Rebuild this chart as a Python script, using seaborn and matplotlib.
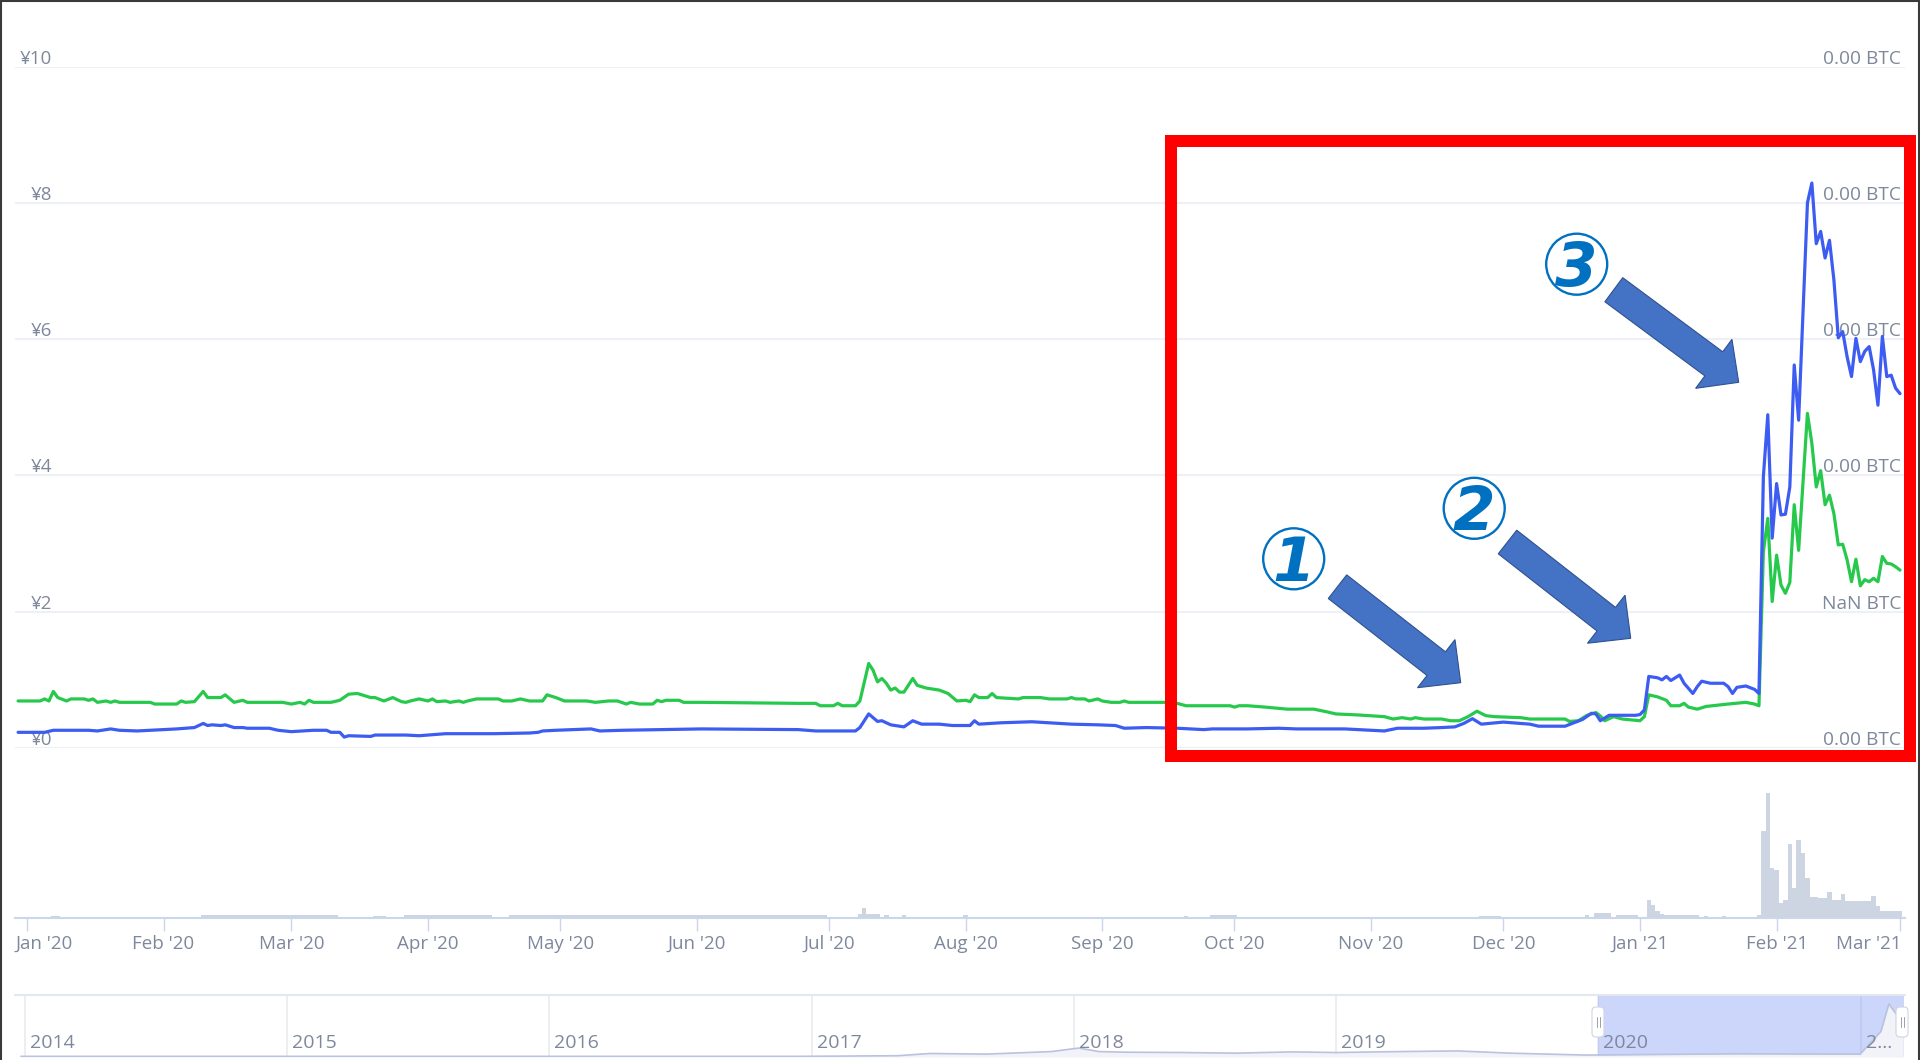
import matplotlib
matplotlib.use("Agg")
import matplotlib.pyplot as plt
import matplotlib.patches as mpatches
import matplotlib.transforms as mtransforms
from matplotlib.lines import Line2D
import numpy as np
import pandas as pd
import seaborn as sns

sns.set_theme(style="white")
plt.rcParams["font.family"] = ["Open Sans", "DejaVu Sans"]

# ---------------------------------------------------------------- data
blue_dates = [
    "2019-12-30", "2020-01-05", "2020-01-07", "2020-01-10", "2020-01-15", "2020-01-17", "2020-01-19",
    "2020-01-20", "2020-01-22", "2020-01-26", "2020-01-29", "2020-02-04", "2020-02-08", "2020-02-10",
    "2020-02-11", "2020-02-12", "2020-02-14", "2020-02-15", "2020-02-17", "2020-02-19", "2020-02-20",
    "2020-02-25", "2020-02-27", "2020-03-01", "2020-03-06", "2020-03-09", "2020-03-10", "2020-03-12",
    "2020-03-13", "2020-03-14", "2020-03-19", "2020-03-20", "2020-03-27", "2020-03-30", "2020-04-05",
    "2020-04-16", "2020-04-24", "2020-04-26", "2020-04-27", "2020-04-30", "2020-05-08", "2020-05-10",
    "2020-05-15", "2020-06-02", "2020-06-24", "2020-06-28", "2020-07-07", "2020-07-08", "2020-07-10",
    "2020-07-12", "2020-07-13", "2020-07-15", "2020-07-18", "2020-07-20", "2020-07-22", "2020-07-26",
    "2020-07-29", "2020-08-02", "2020-08-03", "2020-08-04", "2020-08-09", "2020-08-16", "2020-08-25",
    "2020-08-31", "2020-09-04", "2020-09-06", "2020-09-11", "2020-09-18", "2020-09-24", "2020-09-26",
    "2020-10-04", "2020-10-11", "2020-10-15", "2020-10-26", "2020-11-04", "2020-11-07", "2020-11-13",
    "2020-11-17", "2020-11-20", "2020-11-22", "2020-11-24", "2020-11-26", "2020-12-01", "2020-12-05",
    "2020-12-07", "2020-12-09", "2020-12-15", "2020-12-17", "2020-12-19", "2020-12-21", "2020-12-22",
    "2020-12-23", "2020-12-25", "2020-12-31", "2021-01-01", "2021-01-02", "2021-01-03", "2021-01-05",
    "2021-01-06", "2021-01-07", "2021-01-08", "2021-01-10", "2021-01-11", "2021-01-13", "2021-01-14",
    "2021-01-15", "2021-01-17", "2021-01-20", "2021-01-21", "2021-01-22", "2021-01-23", "2021-01-25",
    "2021-01-27", "2021-01-28", "2021-01-29", "2021-01-30", "2021-01-31", "2021-02-01", "2021-02-02",
    "2021-02-03", "2021-02-04", "2021-02-05", "2021-02-06", "2021-02-08", "2021-02-09", "2021-02-10",
    "2021-02-11", "2021-02-12", "2021-02-13", "2021-02-14", "2021-02-15", "2021-02-16", "2021-02-17",
    "2021-02-18", "2021-02-19", "2021-02-20", "2021-02-21", "2021-02-22", "2021-02-23", "2021-02-24",
    "2021-02-25", "2021-02-26", "2021-02-27", "2021-02-28", "2021-03-01",
]
blue_jpy = [
    0.23, 0.23, 0.26, 0.26, 0.26, 0.25, 0.27,
    0.28, 0.26, 0.25, 0.26, 0.28, 0.30, 0.36,
    0.33, 0.34, 0.33, 0.34, 0.30, 0.30, 0.29,
    0.29, 0.26, 0.24, 0.26, 0.26, 0.23, 0.23,
    0.16, 0.18, 0.17, 0.19, 0.19, 0.18, 0.21,
    0.21, 0.22, 0.23, 0.25, 0.26, 0.28, 0.25,
    0.26, 0.28, 0.27, 0.25, 0.25, 0.30, 0.50,
    0.39, 0.40, 0.34, 0.31, 0.40, 0.35, 0.35,
    0.33, 0.33, 0.40, 0.35, 0.37, 0.385, 0.35,
    0.34, 0.33, 0.29, 0.30, 0.29, 0.27, 0.28,
    0.28, 0.29, 0.28, 0.28, 0.25, 0.29, 0.29,
    0.30, 0.31, 0.36, 0.43, 0.35, 0.38, 0.36,
    0.35, 0.32, 0.32, 0.37, 0.42, 0.51, 0.50,
    0.40, 0.48, 0.48, 0.49, 0.56, 1.05, 1.03,
    1.00, 1.05, 0.99, 1.07, 0.95, 0.80, 0.90,
    0.98, 0.95, 0.95, 0.90, 0.80, 0.89, 0.91,
    0.86, 0.80, 3.98, 4.89, 3.08, 3.88, 3.42,
    3.43, 3.83, 5.62, 4.81, 8.00, 8.29, 7.40,
    7.58, 7.19, 7.45, 6.87, 6.02, 6.11, 5.74,
    5.45, 6.01, 5.67, 5.82, 5.89, 5.55, 5.03,
    6.04, 5.45, 5.47, 5.28, 5.20,
]

green_dates = [
    "2019-12-30", "2020-01-04", "2020-01-05", "2020-01-06", "2020-01-07", "2020-01-08", "2020-01-10",
    "2020-01-11", "2020-01-14", "2020-01-15", "2020-01-16", "2020-01-17", "2020-01-19", "2020-01-20",
    "2020-01-21", "2020-01-22", "2020-01-29", "2020-01-30", "2020-02-04", "2020-02-05", "2020-02-06",
    "2020-02-08", "2020-02-10", "2020-02-11", "2020-02-14", "2020-02-15", "2020-02-17", "2020-02-19",
    "2020-02-20", "2020-02-28", "2020-03-01", "2020-03-03", "2020-03-04", "2020-03-05", "2020-03-06",
    "2020-03-10", "2020-03-12", "2020-03-14", "2020-03-16", "2020-03-17", "2020-03-19", "2020-03-20",
    "2020-03-22", "2020-03-24", "2020-03-26", "2020-03-27", "2020-03-28", "2020-03-30", "2020-04-01",
    "2020-04-02", "2020-04-03", "2020-04-05", "2020-04-06", "2020-04-08", "2020-04-09", "2020-04-10",
    "2020-04-12", "2020-04-17", "2020-04-18", "2020-04-20", "2020-04-22", "2020-04-24", "2020-04-27",
    "2020-04-28", "2020-04-30", "2020-05-02", "2020-05-07", "2020-05-09", "2020-05-12", "2020-05-14",
    "2020-05-16", "2020-05-17", "2020-05-19", "2020-05-22", "2020-05-23", "2020-05-24", "2020-05-25",
    "2020-05-28", "2020-05-29", "2020-06-02", "2020-06-24", "2020-06-28", "2020-06-29", "2020-07-02",
    "2020-07-03", "2020-07-04", "2020-07-07", "2020-07-08", "2020-07-10", "2020-07-11", "2020-07-12",
    "2020-07-13", "2020-07-14", "2020-07-15", "2020-07-16", "2020-07-17", "2020-07-18", "2020-07-20",
    "2020-07-21", "2020-07-23", "2020-07-26", "2020-07-28", "2020-07-30", "2020-08-01", "2020-08-02",
    "2020-08-03", "2020-08-04", "2020-08-06", "2020-08-07", "2020-08-08", "2020-08-13", "2020-08-14",
    "2020-08-18", "2020-08-20", "2020-08-24", "2020-08-25", "2020-08-26", "2020-08-28", "2020-08-29",
    "2020-08-31", "2020-09-01", "2020-09-03", "2020-09-05", "2020-09-06", "2020-09-07", "2020-09-15",
    "2020-09-18", "2020-09-20", "2020-09-30", "2020-10-01", "2020-10-02", "2020-10-04", "2020-10-08",
    "2020-10-13", "2020-10-19", "2020-10-22", "2020-10-24", "2020-10-29", "2020-11-04", "2020-11-06",
    "2020-11-08", "2020-11-10", "2020-11-11", "2020-11-13", "2020-11-17", "2020-11-19", "2020-11-21",
    "2020-11-23", "2020-11-25", "2020-11-27", "2020-11-29", "2020-12-05", "2020-12-07", "2020-12-15",
    "2020-12-16", "2020-12-18", "2020-12-20", "2020-12-22", "2020-12-23", "2020-12-24", "2020-12-26",
    "2020-12-28", "2021-01-01", "2021-01-02", "2021-01-03", "2021-01-05", "2021-01-07", "2021-01-08",
    "2021-01-10", "2021-01-11", "2021-01-12", "2021-01-14", "2021-01-16", "2021-01-21", "2021-01-25",
    "2021-01-27", "2021-01-28", "2021-01-29", "2021-01-30", "2021-01-31", "2021-02-01", "2021-02-02",
    "2021-02-03", "2021-02-04", "2021-02-05", "2021-02-06", "2021-02-08", "2021-02-09", "2021-02-10",
    "2021-02-11", "2021-02-12", "2021-02-13", "2021-02-14", "2021-02-15", "2021-02-16", "2021-02-17",
    "2021-02-18", "2021-02-19", "2021-02-20", "2021-02-21", "2021-02-22", "2021-02-23", "2021-02-24",
    "2021-02-25", "2021-02-26", "2021-02-27", "2021-02-28", "2021-03-01",
]
green_val = [
    0.69, 0.69, 0.72, 0.69, 0.83, 0.74, 0.69,
    0.72, 0.72, 0.70, 0.72, 0.67, 0.69, 0.67,
    0.69, 0.67, 0.67, 0.645, 0.645, 0.69, 0.67,
    0.68, 0.83, 0.74, 0.74, 0.78, 0.67, 0.70,
    0.67, 0.67, 0.645, 0.67, 0.645, 0.70, 0.67,
    0.67, 0.70, 0.79, 0.80, 0.78, 0.74, 0.74,
    0.69, 0.74, 0.68, 0.67, 0.69, 0.72, 0.69,
    0.72, 0.68, 0.69, 0.67, 0.69, 0.67, 0.69,
    0.72, 0.72, 0.69, 0.69, 0.72, 0.69, 0.69,
    0.78, 0.74, 0.69, 0.69, 0.67, 0.69, 0.69,
    0.645, 0.67, 0.645, 0.645, 0.70, 0.68, 0.70,
    0.70, 0.67, 0.67, 0.655, 0.655, 0.62, 0.62,
    0.655, 0.62, 0.62, 0.69, 1.24, 1.14, 0.97,
    1.02, 0.95, 0.85, 0.88, 0.82, 0.82, 1.02,
    0.92, 0.88, 0.85, 0.80, 0.69, 0.70, 0.68,
    0.78, 0.74, 0.74, 0.80, 0.74, 0.72, 0.74,
    0.74, 0.72, 0.72, 0.74, 0.72, 0.72, 0.69,
    0.72, 0.69, 0.67, 0.67, 0.69, 0.67, 0.67,
    0.655, 0.62, 0.62, 0.60, 0.62, 0.62, 0.60,
    0.57, 0.57, 0.53, 0.50, 0.485, 0.46, 0.425,
    0.445, 0.425, 0.445, 0.425, 0.425, 0.40, 0.40,
    0.46, 0.54, 0.475, 0.46, 0.445, 0.425, 0.425,
    0.39, 0.40, 0.48, 0.52, 0.47, 0.40, 0.46,
    0.425, 0.40, 0.46, 0.78, 0.75, 0.70, 0.62,
    0.62, 0.655, 0.60, 0.57, 0.61, 0.645, 0.67,
    0.645, 0.62, 2.88, 3.37, 2.15, 2.83, 2.39,
    2.27, 2.43, 3.57, 2.90, 4.91, 4.47, 3.83,
    4.07, 3.57, 3.71, 3.44, 2.98, 2.99, 2.76,
    2.44, 2.77, 2.38, 2.47, 2.44, 2.49, 2.44,
    2.81, 2.71, 2.70, 2.66, 2.61,
]

# volume: run-length (first day, number of days, bar height)
vol_start = [
    "2020-01-07", "2020-02-10", "2020-03-20", "2020-03-27", "2020-04-20", "2020-07-08", "2020-07-09",
    "2020-07-10", "2020-07-14", "2020-07-18", "2020-08-01", "2020-09-20", "2020-09-26", "2020-11-26",
    "2020-12-20", "2020-12-22", "2020-12-27", "2021-01-03", "2021-01-04", "2021-01-05", "2021-01-06",
    "2021-01-07", "2021-01-16", "2021-01-20", "2021-01-28", "2021-01-29", "2021-01-30", "2021-01-31",
    "2021-02-01", "2021-02-02", "2021-02-03", "2021-02-04", "2021-02-05", "2021-02-06", "2021-02-07",
    "2021-02-08", "2021-02-09", "2021-02-10", "2021-02-11", "2021-02-12", "2021-02-13", "2021-02-14",
    "2021-02-15", "2021-02-16", "2021-02-17", "2021-02-23", "2021-02-24", "2021-02-25",
]
vol_days = [
    2, 31, 3, 20, 72, 1, 1,
    3, 1, 1, 1, 1, 6, 5,
    1, 4, 5, 1, 1, 1, 1,
    8, 1, 1, 1, 1, 1, 1,
    1, 1, 1, 1, 1, 1, 1,
    1, 1, 1, 1, 1, 1, 1,
    1, 1, 6, 1, 1, 5,
]
vol_value = [
    2, 3.5, 2.5, 3.5, 3.5, 4, 10,
    4, 3, 3, 3, 2.5, 3, 2.5,
    3, 5, 3, 18, 13, 7, 4,
    3, 2.5, 2, 3, 87, 125, 50,
    48, 15, 18, 74, 30, 78, 65,
    40, 21, 21, 20, 20, 26, 18,
    18, 24, 17, 22, 12, 7,
]

# navigator (whole price history, JPY)
nav_dates = [
    "2013-12-27", "2016-12-15", "2017-05-01", "2017-06-15", "2017-09-01", "2017-12-01", "2018-01-08",
    "2018-02-05", "2018-03-15", "2018-06-01", "2018-08-15", "2018-11-01", "2019-01-01", "2019-04-01",
    "2019-06-20", "2019-09-01", "2019-12-15", "2020-07-10", "2020-12-31", "2021-01-29", "2021-02-09",
    "2021-03-01",
]
nav_val = [
    0.10, 0.10, 0.20, 0.55, 0.45, 0.85, 1.40,
    0.85, 0.75, 0.70, 0.60, 0.80, 0.70, 0.85,
    0.95, 0.60, 0.30, 0.50, 0.45, 4.00, 8.29,
    5.20,
]
nav_years = [2014, 2015, 2016, 2017, 2018, 2019, 2020, 2021]
nav_year_labels = ["2014", "2015", "2016", "2017", "2018", "2019", "2020", "2..."]

y_ticks = [0, 2, 4, 6, 8, 10]
left_labels = ["¥0", "¥2", "¥4", "¥6", "¥8", "¥10"]
right_labels = ["0.00 BTC", "NaN BTC", "0.00 BTC", "0.00 BTC", "0.00 BTC", "0.00 BTC"]
month_starts = pd.date_range("2020-01-01", "2021-03-01", freq="MS")
month_labels = ["Jan '20", "Feb '20", "Mar '20", "Apr '20", "May '20", "Jun '20", "Jul '20",
                "Aug '20", "Sep '20", "Oct '20", "Nov '20", "Dec '20", "Jan '21", "Feb '21", "Mar '21"]

# ---------------------------------------------------------------- style
BLUE = "#3c5cf2"
GREEN = "#27c94c"
GRID = "#edf0f5"
LABEL = "#7e889c"
AXIS = "#ccd6eb"
VOL = "#cdd4e2"
W, H = 1920, 1060
L_PX, R_PX = 15, 1905

fig = plt.figure(figsize=(W / 100, H / 100), dpi=100)
fig.patch.set_facecolor("white")
PIX = mtransforms.Affine2D().scale(1 / W, -1 / H).translate(0, 1) + fig.transFigure


def frac_rect(top, bottom):
    return [L_PX / W, 1 - bottom / H, (R_PX - L_PX) / W, (bottom - top) / H]


origin = pd.Timestamp("2020-01-01")
ppd = (1900 - 26.9) / 425.0
xlim = (origin + pd.Timedelta(days=(L_PX - 26.9) / ppd), origin + pd.Timedelta(days=(R_PX - 26.9) / ppd))

# ---------------------------------------------------------------- main price panel
ax = fig.add_axes(frac_rect(66.5, 748))
ax.set_facecolor("none")
price = pd.DataFrame({"date": pd.to_datetime(blue_dates), "jpy": blue_jpy})
second = pd.DataFrame({"date": pd.to_datetime(green_dates), "val": green_val})
sns.lineplot(data=second, x="date", y="val", ax=ax, color=GREEN, linewidth=2.3, zorder=4)
sns.lineplot(data=price, x="date", y="jpy", ax=ax, color=BLUE, linewidth=2.3, zorder=5)
ax.set_xlim(xlim)
ax.set_ylim(0, 10)
for v in y_ticks:
    ax.axhline(v, color=GRID, linewidth=1.5, zorder=1)
ax.axis("off")

ytrans = mtransforms.offset_copy(ax.get_yaxis_transform(), fig=fig, x=0, y=3, units="dots")
for v, lab in zip(y_ticks, left_labels):
    ax.text((52 - L_PX) / (R_PX - L_PX), v, lab, transform=ytrans, ha="right", va="baseline",
            fontsize=13.5, color=LABEL, zorder=2)
for v, lab in zip(y_ticks, right_labels):
    ax.text((1901 - L_PX) / (R_PX - L_PX), v, lab, transform=ytrans, ha="right", va="baseline",
            fontsize=13.8, color=LABEL, zorder=2)

# ---------------------------------------------------------------- volume panel
vax = fig.add_axes(frac_rect(748, 918))
vax.set_facecolor("none")
v_left = pd.to_datetime(vol_start) - pd.Timedelta(hours=12)
vax.bar(v_left, vol_value, width=np.array(vol_days, dtype=float), align="edge",
        color=VOL, edgecolor="none", linewidth=0, zorder=2)
vax.set_xlim(xlim)
vax.set_ylim(0, 170)
for s in vax.spines.values():
    s.set_visible(False)
vax.spines["bottom"].set_visible(True)
vax.spines["bottom"].set_color(AXIS)
vax.spines["bottom"].set_linewidth(1.5)
vax.set_yticks([])
vax.set_xticks(month_starts)
vax.set_xticklabels([])
vax.tick_params(axis="x", length=9, width=1.0, color=AXIS, direction="out", bottom=True)
btrans = mtransforms.blended_transform_factory(vax.transData, PIX)
for i, (m, lab) in enumerate(zip(month_starts, month_labels)):
    if i == 0:
        x, ha = xlim[0], "left"
    elif i == len(month_starts) - 1:
        x, ha = xlim[1] - pd.Timedelta(days=0.7), "right"
    else:
        x, ha = m, "center"
    vax.text(x, 944, lab, transform=btrans, ha=ha, va="center", fontsize=13.5, color=LABEL)

# ---------------------------------------------------------------- navigator
nax = fig.add_axes(frac_rect(994, 1057))
nax.set_facecolor("none")
nav_origin = pd.Timestamp("2014-01-01")
nppd = (1598 - 24.5) / 2191.0
nav_xlim = (nav_origin + pd.Timedelta(days=(L_PX - 24.5) / nppd),
            nav_origin + pd.Timedelta(days=(R_PX - 24.5) / nppd))
nav = pd.DataFrame({"date": pd.to_datetime(nav_dates), "val": nav_val})
nax.fill_between(nav["date"], nav["val"], color="#f1f3f9", zorder=2, linewidth=0)
sns.lineplot(data=nav, x="date", y="val", ax=nax, color="#b9c2de", linewidth=1.2, zorder=3)
nax.axvspan(pd.Timestamp("2020-01-01"), pd.Timestamp("2021-03-01") + pd.Timedelta(days=0.5),
            ymin=0, ymax=(1060 - 994) / (1057 - 994),
            color="#6685f2", alpha=0.33, linewidth=0, zorder=1)
for yr in nav_years:
    nax.axvline(pd.Timestamp(f"{yr}-01-01"), ymin=0, ymax=1.0, color="#e9ebf0", linewidth=1.2, zorder=0)
nax.set_xlim(nav_xlim)
nax.set_ylim(0, 9.85)
nax.axis("off")
ntrans = mtransforms.blended_transform_factory(nax.transData, PIX)
for yr, lab in zip(nav_years, nav_year_labels):
    nax.text(pd.Timestamp(f"{yr}-01-01") + pd.Timedelta(days=7), 1043, lab, transform=ntrans,
             ha="left", va="center", fontsize=14, color=LABEL, zorder=4)
fig.add_artist(Line2D([L_PX, R_PX], [995, 995], transform=PIX, color="#e3e7ee", linewidth=1.5))
for hx in (1598, 1902):
    fig.add_artist(mpatches.FancyBboxPatch((hx - 6, 1007), 12, 30, boxstyle="round,pad=0,rounding_size=4",
                                           transform=PIX, facecolor="white", edgecolor="#d0d4dc",
                                           linewidth=0.8, zorder=10))
    for dx in (-1.5, 1.5):
        fig.add_artist(Line2D([hx + dx, hx + dx], [1017, 1027], transform=PIX, color="#9aa0aa",
                              linewidth=0.7, zorder=11))

# ---------------------------------------------------------------- annotations
fig.add_artist(mpatches.Rectangle((1170.7, 141), 1910 - 1170.7, 755.7 - 141, transform=PIX,
                                  fill=False, edgecolor="#ff0000", linewidth=12 * 0.72,
                                  joinstyle="miter", zorder=20))

arrows = [((1337.5, 586.7), (1460.7, 682.7)),
          ((1507.5, 542.0), (1630.7, 638.3)),
          ((1613.8, 289.7), (1738.7, 382.3))]
for (tx, ty), (hx, hy) in arrows:
    fig.add_artist(mpatches.FancyArrow(tx, ty, hx - tx, hy - ty, width=30, head_width=61, head_length=31,
                                       length_includes_head=True, transform=PIX, facecolor="#4472c4",
                                       edgecolor="#2f528f", linewidth=0.8, zorder=21))

circles = [((1293.7, 558.8), "1"), ((1474.2, 508.3), "2"), ((1576.7, 264.2), "3")]
for (cx, cy), d in circles:
    fig.add_artist(mpatches.Circle((cx, cy), 30.5, transform=PIX, facecolor="none",
                                   edgecolor="#0070c0", linewidth=1.7, zorder=21))
    fig.text(cx, cy + 22, d, transform=PIX, ha="center", va="baseline", fontsize=44,
             fontweight="heavy", style="italic", color="#0070c0", zorder=22,
             family=["DejaVu Sans"])

# border
for xs, ys in (([1, 1], [0, H]), ([0, W], [1, 1]), ([W - 1.5, W - 1.5], [0, H])):
    fig.add_artist(Line2D(xs, ys, transform=PIX, color="#3a3a3a", linewidth=1.5, zorder=30))

fig.savefig("out.png", dpi=100, facecolor="white")
